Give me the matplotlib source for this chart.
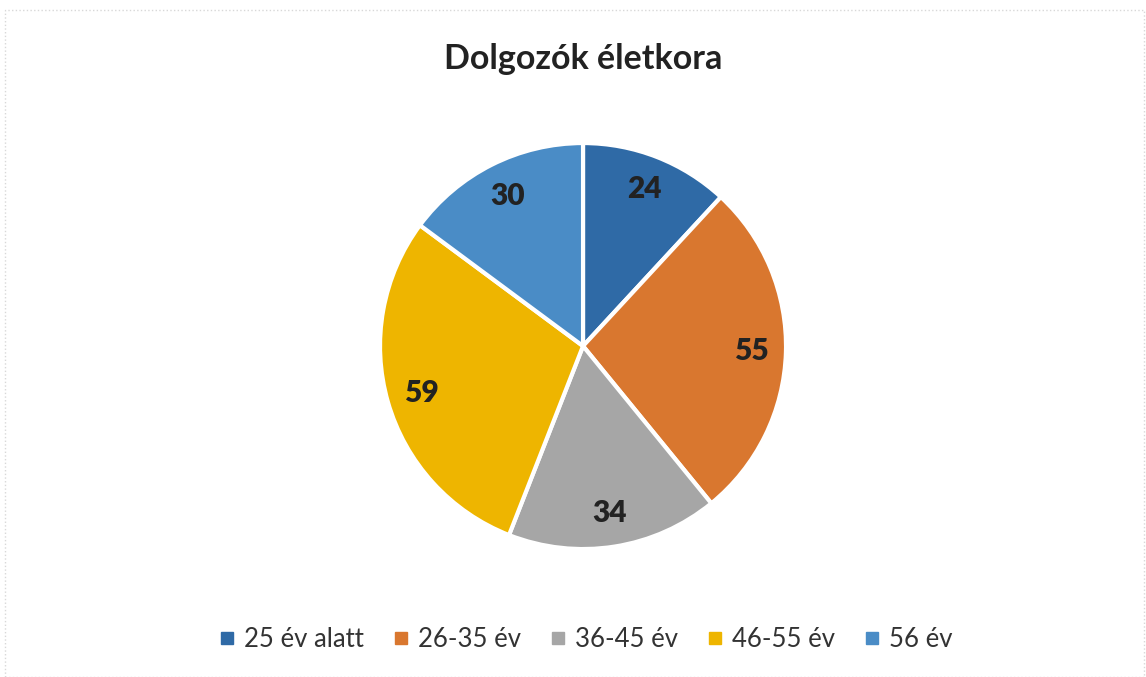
import matplotlib
matplotlib.use('Agg')
import matplotlib.pyplot as plt
from matplotlib.patches import Rectangle
from matplotlib.lines import Line2D

plt.rcParams['font.family'] = ['Lato', 'DejaVu Sans']

# chart data
categories = ['25 év alatt', '26-35 év', '36-45 év', '46-55 év', '56 év']
values = [24, 55, 34, 59, 30]
colors = ['#2f6aa6', '#d9772f', '#a6a6a6', '#eeb500', '#4a8cc6']
title = 'Dolgozók életkora'

fig = plt.figure(figsize=(11.46, 6.77), dpi=100)
fig.patch.set_facecolor('white')

# faint frame of the scanned chart area
fig.patches.append(Rectangle((0.004, 0.0), 0.994, 0.985, transform=fig.transFigure,
                             fill=False, edgecolor='#d8d8d8', linewidth=1, linestyle=':'))

ax = fig.add_axes([0.3316, 0.189, 0.3543, 0.5997])
wedges, texts, autotexts = ax.pie(
    values, colors=colors, startangle=90, counterclock=False,
    autopct=lambda p: f'{round(p * sum(values) / 100):d}', pctdistance=0.83,
    wedgeprops=dict(edgecolor='white', linewidth=3),
    textprops=dict(fontsize=21.5, fontweight='heavy', color='#222222'))
ax.set_xlim(-1, 1)
ax.set_ylim(-1, 1)
ax.set_aspect('equal')

fig.text(0.509, 0.913, title, ha='center', va='center', fontsize=24.5,
         fontweight='bold', color='#222222')

handles = [Line2D([], [], marker='s', linestyle='none', markersize=9,
                  markerfacecolor=c, markeredgecolor=c) for c in colors]
fig.legend(handles, categories, loc='center', bbox_to_anchor=(0.509, 0.055),
           ncol=5, frameon=False, fontsize=18.5, labelcolor='#333333',
           handletextpad=0.15, columnspacing=0.95, handlelength=1.0)

plt.savefig('out.png', dpi=100)
